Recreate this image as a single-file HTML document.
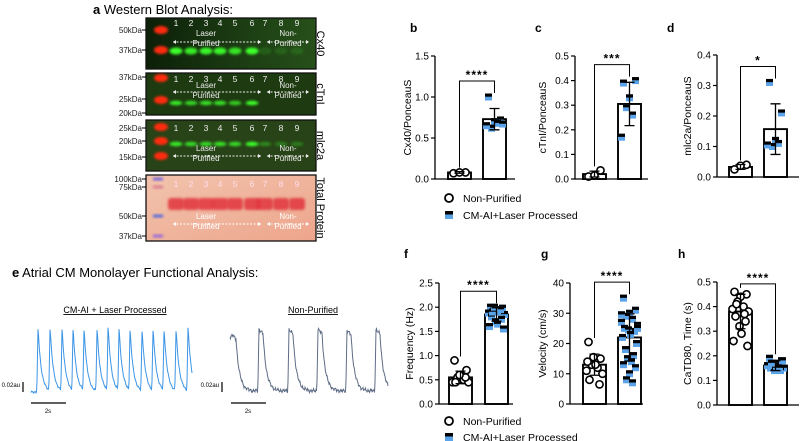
<!DOCTYPE html>
<html><head><meta charset="utf-8"><style>
html,body{margin:0;padding:0;background:#fff;}
svg{display:block;font-family:"Liberation Sans",Arial,sans-serif;}
</style></head><body>
<svg id="fig" width="800" height="441" viewBox="0 0 800 441" xmlns="http://www.w3.org/2000/svg">
<defs>
<filter id="blur1" x="-50%" y="-50%" width="200%" height="200%"><feGaussianBlur stdDeviation="1.2"/></filter>
<filter id="blur2" x="-50%" y="-50%" width="200%" height="200%"><feGaussianBlur stdDeviation="1.8"/></filter>
<linearGradient id="gCx" x1="0" y1="0" x2="1" y2="0"><stop offset="0" stop-color="#0c1f08"/><stop offset="0.5" stop-color="#1a3a12"/><stop offset="1" stop-color="#27501a"/></linearGradient>
<linearGradient id="gTp" x1="0" y1="0" x2="1" y2="1"><stop offset="0" stop-color="#f2c3ad"/><stop offset="1" stop-color="#eda58c"/></linearGradient>
</defs>
<text x="93" y="14" font-size="13"><tspan font-weight="bold">a</tspan> Western Blot Analysis:</text>
<g id="blots"></g>
<text x="12" y="277" font-size="13"><tspan font-weight="bold">e</tspan> Atrial CM Monolayer Functional Analysis:</text>
<g id="traces"></g>
<g id="charts"></g>
</svg>
<script>
const NS="http://www.w3.org/2000/svg";
function mk(tag,attrs,parent,txt){const e=document.createElementNS(NS,tag);for(const k in attrs)e.setAttribute(k,attrs[k]);if(txt!==undefined)e.textContent=txt;parent.appendChild(e);return e;}

/* ---------- bar chart data ---------- */
const groupNames=["Non-Purified","CM-AI+Laser Processed"];
const bNon=[0.07,0.08,0.08];
const bLaser=[1.0,0.72,0.70,0.62,0.68,0.65,0.67];
const bMean=[0.08,0.73];const bSd=[0.01,0.13];const bTicks=["0.0","0.5","1.0","1.5"];
const cNon=[0.01,0.035,0.015];
const cLaser=[0.39,0.40,0.33,0.29,0.26,0.17];
const cMean=[0.02,0.305];const cSd=[0.012,0.088];const cTicks=["0.0","0.1","0.2","0.3","0.4","0.5"];
const dNon=[0.025,0.04,0.037];
const dLaser=[0.31,0.21,0.12,0.10,0.11,0.105];
const dMean=[0.033,0.157];const dSd=[0.008,0.083];const dTicks=["0.0","0.1","0.2","0.3","0.4"];
const fNon=[0.9,0.7,0.6,0.55,0.5,0.45,0.45,0.45,0.55,0.6];
const fLaser=[2.0,1.98,1.95,1.92,1.9,1.88,1.85,1.8,1.75,1.7,1.65,1.6,1.55,1.9,1.95,2.0];
const fMean=[0.55,1.85];const fSd=[0.13,0.14];const fTicks=["0.0","0.5","1.0","1.5","2.0","2.5"];
const gNon=[20.5,15,14,13,12,11,10,8,6.5,15.5,13,14];
const gLaser=[35,31,30,29,28,27,26,25,24,24.5,23,22,20,18,16,15,14,13,12,10,8,7,29.5,25];
const gMean=[13,22];const gSd=[3.5,7.8];const gTicks=["0","10","20","30","40"];
const hNon=[0.46,0.45,0.44,0.42,0.40,0.39,0.38,0.36,0.34,0.32,0.29,0.26,0.24,0.41,0.37];
const hLaser=[0.19,0.18,0.17,0.17,0.16,0.16,0.15,0.15,0.14,0.14,0.15,0.16,0.18,0.17,0.15];
const hMean=[0.38,0.16];const hSd=[0.07,0.02];const hTicks=["0.0","0.1","0.2","0.3","0.4","0.5"];

const panels=[
 {id:"b",label:"Cx40/PonceauS",non:bNon,las:bLaser,mean:bMean,sd:bSd,ticks:bTicks,max:1.5,ax:435,top:56,bot:179,b1:448,b2:483,end:515,lx:410,ly:32,ylx:408,stars:"****"},
 {id:"c",label:"cTnI/PonceauS",non:cNon,las:cLaser,mean:cMean,sd:cSd,ticks:cTicks,max:0.5,ax:575,top:56,bot:179,b1:583,b2:618,end:648,lx:535,ly:32,ylx:543,stars:"***"},
 {id:"d",label:"mlc2a/PonceauS",non:dNon,las:dLaser,mean:dMean,sd:dSd,ticks:dTicks,max:0.4,ax:717,top:55,bot:177,b1:729,b2:764,end:799,lx:667,ly:32,ylx:688,stars:"*"},
 {id:"f",label:"Frequency (Hz)",non:fNon,las:fLaser,mean:fMean,sd:fSd,ticks:fTicks,max:2.5,ax:439,top:283,bot:404,b1:449,b2:485,end:513,lx:404,ly:258,ylx:410,stars:"****"},
 {id:"g",label:"Velocity (cm/s)",non:gNon,las:gLaser,mean:gMean,sd:gSd,ticks:gTicks,max:40,ax:570,top:283,bot:404,b1:583,b2:618,end:643,lx:541,ly:258,ylx:543,stars:"****"},
 {id:"h",label:"CaTD80, Time (s)",non:hNon,las:hLaser,mean:hMean,sd:hSd,ticks:hTicks,max:0.5,ax:717,top:282,bot:405,b1:729,b2:764,end:799,lx:678,ly:258,ylx:688,stars:"****"}
];
const BW=23;
const charts=document.getElementById("charts");
panels.forEach(p=>{
 const g=mk("g",{},charts);
 
 
 const y=v=>p.bot-v/p.max*(p.bot-p.top);
 const t=mk("text",{x:p.lx,y:p.ly,"font-size":12,"font-weight":"bold"},g,p.id);
 
 
 [p.b1,p.b2].forEach((bx,i)=>{
  const r=mk("rect",{x:bx,y:y(p.mean[i]),width:BW,height:p.bot-y(p.mean[i]),fill:"#fff",stroke:"#000","stroke-width":1.9},g);
  
  
 });
 const drawPts=(arr,bx,sq)=>{arr.forEach((v,k)=>{
  const off=[-6,6,0,-3,3,-8,8,-5,5,-1,1,-7,7,-4,4,-2,2,-6,6,0,-3,3,-8,8][k%24];
  const cx=bx+BW/2+off,cy=y(v);
  if(sq){const s=mk("g",{},g);
   
   
   mk("rect",{x:cx-3.5,y:cy-3.5,width:7,height:7,fill:"#5aa3e8"},s);
   mk("rect",{x:cx-3.5,y:cy-3.5,width:7,height:3.2,fill:"#000"},s);
  }else{const c=mk("circle",{cx:cx,cy:cy,r:3.6,fill:"#fff",stroke:"#000","stroke-width":1.6},g);
   
   }
 });};
 drawPts(p.non,p.b1,false);drawPts(p.las,p.b2,true);
 [p.b1,p.b2].forEach((bx,i)=>{
  const cx=bx+BW/2,lo=y(p.mean[i]-p.sd[i]),hi=y(p.mean[i]+p.sd[i]);
  const e=mk("path",{d:`M${cx},${lo}V${hi}M${cx-5},${hi}H${cx+5}M${cx-5},${lo}H${cx+5}`,stroke:"#000","stroke-width":1.3,fill:"none"},g);
  
  
 });
 const a=mk("path",{d:`M${p.ax},${p.top}V${p.bot}H${p.end}`,stroke:"#000","stroke-width":1.3,fill:"none"},g);
 
 
 p.ticks.forEach((tl,k)=>{
  const ty=y(parseFloat(tl));
  mk("line",{x1:p.ax-4,x2:p.ax,y1:ty,y2:ty,stroke:"#000","stroke-width":1.2},g);
  const tt=mk("text",{x:p.ax-6,y:ty+3.5,"font-size":10,"text-anchor":"end"},g,tl);
  
  
 });
 const yl=mk("text",{x:p.ylx,y:(p.top+p.bot)/2,"font-size":10.5,"text-anchor":"middle",transform:`rotate(-90 ${p.ylx} ${(p.top+p.bot)/2})`,"dominant-baseline":"middle"},g,p.label);
 
 
 const top1=Math.min(...p.non.map(y),y(p.mean[0]+p.sd[0]))-4;
 const top2=Math.min(...p.las.map(y),y(p.mean[1]+p.sd[1]))-4;
 const by=Math.min(top1,top2)-(p.id==="h"?4:12);
 const c1=p.b1+BW/2,c2=p.b2+BW/2;
 const br=mk("path",{d:`M${c1},${top1}V${by}H${c2}V${top2}`,stroke:"#000","stroke-width":1,fill:"none"},g);
 
 
 const st=mk("text",{x:(c1+c2)/2,y:by-2,"font-size":12,"font-weight":"bold","text-anchor":"middle","letter-spacing":"1"},g,p.stars);
 
 
});
[[198,215],[421,437]].forEach((ly,li)=>{
 const g=mk("g",{},charts);
 
 
 mk("circle",{cx:449,cy:ly[0],r:4,fill:"#fff",stroke:"#000","stroke-width":1.8},g);
 mk("text",{x:463,y:ly[0]+4,"font-size":10.5},g,groupNames[0]);
 mk("rect",{x:445,y:ly[1]-4,width:8,height:8,fill:"#5aa3e8"},g);
 mk("rect",{x:445,y:ly[1]-4,width:8,height:3.5,fill:"#000"},g);
 mk("text",{x:463,y:ly[1]+4,"font-size":10.5},g,groupNames[1]);
});

/* ---------- western blots ---------- */
const lanesX=[176,191,206,220,235,252,265,281,297];
const cxBand=[1,0.9,0.95,0.95,0.85,1,0.15,0.15,0.15];
const tnBand=[0.9,0.8,0.85,0.85,0.75,1,0,0,0];
const mlBand=[0.9,0.8,0.8,0.85,0.8,1,0.35,0.3,0.3];
const wb=document.getElementById("blots");
const blots=[
 {name:"Cx40",y:18,h:51,fill:"url(#gCx)",kda:[["50kDa",30],["37kDa",50]],ladder:[30,50],bands:cxBand,by:51,numY:26,arrowY:42,lblY:38},
 {name:"cTnI",y:73,h:42,fill:"#1d3a10",kda:[["37kDa",77],["25kDa",99],["20kDa",113]],ladder:[78,100],bands:tnBand,by:103,numY:82,arrowY:92,lblY:90},
 {name:"mlc2a",y:120,h:51,fill:"#274317",kda:[["25kDa",128],["20kDa",141],["15kDa",157]],ladder:[127,141,156],bands:mlBand,by:144,numY:131,arrowY:156,lblY:153},
 {name:"Total Protein",y:175,h:66,fill:"url(#gTp)",kda:[["100kDa",179],["75kDa",187],["50kDa",216],["37kDa",236]],ladder:[],bands:[1,1,1,1,1,1,1,1,1],by:204,numY:187,arrowY:224,lblY:221}
];
blots.forEach((b,bi)=>{
 const g=mk("g",{},wb);
 
 
 mk("rect",{x:146,y:b.y,width:170,height:b.h,fill:b.fill,stroke:"#111","stroke-width":1.3},g);
 b.kda.forEach(k=>{mk("text",{x:142,y:k[1]+3,"font-size":8,"text-anchor":"end",fill:"#222"},g,k[0]);mk("line",{x1:142,x2:146,y1:k[1],y2:k[1],stroke:"#000"},g);});
 if(bi<3){b.ladder.forEach(ly=>mk("ellipse",{cx:161,cy:ly,rx:7,ry:4,fill:"#ff2a10",filter:"url(#blur1)"},g));}
 else{[[179,"#7a6ad8"],[187,"#d98090"],[216,"#5a6ad8"],[236,"#9a6ad8"]].forEach(l=>mk("rect",{x:153,y:l[0]-1.5,width:10,height:3,fill:l[1],filter:"url(#blur1)"},g));}
 lanesX.forEach((lx,i)=>{
  const v=b.bands[i];
  if(v>0){
   if(bi<3)mk("ellipse",{cx:lx,cy:b.by,rx:6.5,ry:bi===0?3.5:2.2,fill:"#3cff2a","fill-opacity":v,filter:"url(#blur1)"},g);
   else mk("rect",{x:lx-8,y:b.by-6,width:16,height:12,rx:3,fill:"#e02a3a","fill-opacity":0.8,filter:"url(#blur1)"},g);
  }
  mk("text",{x:lx,y:b.numY,"font-size":8.5,"text-anchor":"middle",fill:bi===3?"#fde":"#eee"},g,String(i+1));
 });
 const lc=bi===3?"#fff":"#eee";
 mk("path",{d:`M173,${b.arrowY}H261M267,${b.arrowY}H309`,stroke:lc,"stroke-width":0.9,"stroke-dasharray":"2,1.5",fill:"none"},g);
 mk("path",{d:`M173,${b.arrowY}l3,-2v4zM261,${b.arrowY}l-3,-2v4zM267,${b.arrowY}l3,-2v4zM309,${b.arrowY}l-3,-2v4z`,fill:lc},g);
 mk("text",{x:206,y:b.lblY-2,"font-size":8,"text-anchor":"middle",fill:lc},g,"Laser");
 mk("text",{x:206,y:b.lblY+8,"font-size":8,"text-anchor":"middle",fill:lc},g,"Purified");
 mk("text",{x:288,y:b.lblY-2,"font-size":8,"text-anchor":"middle",fill:lc},g,"Non-");
 mk("text",{x:288,y:b.lblY+8,"font-size":8,"text-anchor":"middle",fill:lc},g,"Purified");
 const cy=b.y+b.h/2;
 mk("text",{x:320,y:cy,"font-size":11,"text-anchor":"middle",transform:`rotate(90 320 ${cy})`,"dominant-baseline":"middle"},g,b.name);
});

/* ---------- traces ---------- */
const bluePeaks=[38,50,62,73,84,97,108,119,130,142,153,164,176,188];
const blueAmp=[0.94,0.95,0.94,0.93,0.93,0.93,0.97,0.94,0.92,0.92,0.93,0.93,0.92,0.96];
const grayPeaks=[232,259,289,318,347,376];
const grayAmp=[0.88,0.97,0.96,0.97,0.95,0.96];
const tr=document.getElementById("traces");
function trace(x0,x1,peaks,amps,base,h,decay,plateau,noise,color,name){
 let d="";
 for(let x=x0;x<=x1;x+=0.5){
  let v=0;
  peaks.forEach((p,i)=>{const dt=x-p;
   if(dt>=-1.2&&dt<0)v=Math.max(v,amps[i]*(1+dt/1.2));
   else if(dt>=0){const e=dt<plateau?1-dt/plateau*0.08:0.92*Math.exp(-(dt-plateau)/decay);v=Math.max(v,amps[i]*e);}
  });
  if(peaks[0]<x0+3&&x<peaks[0])v=Math.max(v,0.85);
  const n=noise*(Math.sin(x*2.3)+Math.sin(x*5.1+1)*0.7+Math.sin(x*11.7)*0.5);
  const yy=base-v*h+n;
  d+=(d?"L":"M")+x.toFixed(1)+","+yy.toFixed(1);
 }
 const p=mk("path",{d:d,stroke:color,"stroke-width":1,fill:"none"},tr);
 
 
}
trace(31,192,bluePeaks,blueAmp,392,66,3.2,0.5,0.6,"#3d95e6","trace-laser-processed");
trace(230,388,grayPeaks,grayAmp,391,64,3.5,4,1.1,"#5f6c85","trace-non-purified");
[[115,"CM-AI + Laser Processed"],[313,"Non-Purified"]].forEach(l=>{
 const t=mk("text",{x:l[0],y:313,"font-size":9,"text-anchor":"middle","text-decoration":"underline"},tr,l[1]);
 
 
});
[[23,31],[222,231]].forEach(s=>{
 mk("line",{x1:s[0],x2:s[0],y1:382,y2:392,stroke:"#000","stroke-width":1.2},tr);
 mk("text",{x:s[0]-3,y:387,"font-size":6,"text-anchor":"end"},tr,"0.02au");
 mk("line",{x1:s[1],x2:s[1]+35,y1:403,y2:403,stroke:"#000","stroke-width":1.2},tr);
 mk("text",{x:s[1]+17,y:413,"font-size":6,"text-anchor":"middle"},tr,"2s");
});
</script>
</body></html>
